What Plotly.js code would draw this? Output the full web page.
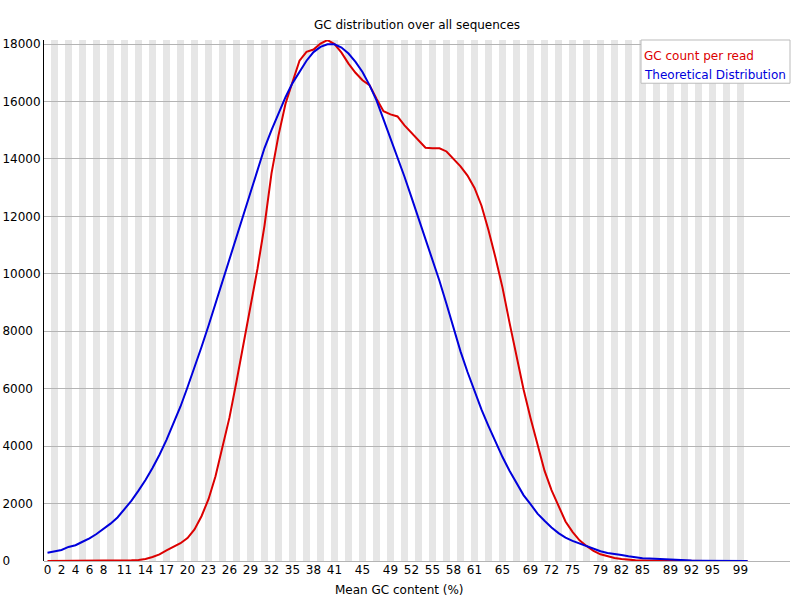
<!DOCTYPE html>
<html>
<head>
<meta charset="utf-8">
<script src="https://cdn.plot.ly/plotly-3.0.1.min.js"></script>
<style>
  body { margin: 0; background: #fff; }
  #chart { width: 800px; height: 600px; }
</style>
</head>
<body>
<div id="chart"></div>
<script>
// GC content bins (0..100 %)
var gcPercent = [0,1,2,3,4,5,6,7,8,9,10,11,12,13,14,15,16,17,18,19,20,
  21,22,23,24,25,26,27,28,29,30,31,32,33,34,35,36,37,38,39,40,
  41,42,43,44,45,46,47,48,49,50,51,52,53,54,55,56,57,58,59,60,
  61,62,63,64,65,66,67,68,69,70,71,72,73,74,75,76,77,78,79,80,
  81,82,83,84,85,86,87,88,89,90,91,92,93,94,95,96,97,98,99,100];

// GC count per read
var gcCount = [0,0,0,0,0,0,0,0,0,3,
  10,25,25,35,70,140,230,370,510,620,
  800,1100,1560,2150,2950,3950,5000,6250,7550,8850,
  10180,11680,13500,14820,15920,16680,17420,17730,17810,18020,
  18140,18000,17700,17320,17000,16740,16570,16100,15660,15550,
  15480,15170,14900,14640,14390,14370,14370,14260,14000,13740,
  13420,12990,12370,11520,10560,9520,8300,7150,5980,4980,
  4080,3145,2470,1920,1375,1015,720,525,350,233,
  163,105,70,35,23,20,15,12,10,8,
  5,4,3,3,2,2,1,1,1,0,0];

// theoretical distribution
var theoretical = [290,325,385,490,550,670,790,940,1107,1300,
  1515,1805,2100,2450,2820,3240,3700,4220,4780,5380,
  6050,6730,7450,8190,8960,9730,10490,11250,12010,12830,
  13630,14380,15000,15560,16150,16640,17050,17420,17720,17900,
  17990,17990,17880,17670,17380,17030,16570,16040,15380,14720,
  14070,13380,12660,11940,11230,10500,9750,8950,8080,7300,
  6580,5900,5270,4700,4150,3620,3145,2700,2295,1980,
  1650,1400,1165,970,815,700,605,510,420,340,
  280,256,210,165,120,100,85,70,55,40,
  30,22,17,12,9,7,5,4,3,2,1];

var xTicks = [0,2,4,6,8,11,14,17,20,23,26,29,32,35,38,41,45,49,52,55,58,61,65,69,72,75,79,82,85,89,92,95,99];
var yTicks = [0,2000,4000,6000,8000,10000,12000,14000,16000,18000];
var seriesNames = ['GC count per read', 'Theoretical Distribution'];

var font = 'DejaVu Sans, Verdana, sans-serif';

// grey stripes behind every other bin
var stripes = [];
gcPercent.forEach(function (g) {
  if (g % 2 === 1) {
    stripes.push({
      type: 'rect', layer: 'below', xref: 'x', yref: 'paper',
      x0: g - 0.5, x1: g + 0.5, y0: 0, y1: 1,
      fillcolor: '#e6e6e6', line: { width: 0 }
    });
  }
});
// legend box
stripes.push({
  type: 'rect', layer: 'above', xref: 'paper', yref: 'paper',
  x0: 0.8003, x1: 1.0, y0: 0.917, y1: 1.0,
  fillcolor: '#fff', line: { color: '#bbbbbb', width: 1 }
});

// y labels are left aligned in the original, pad with figure spaces
var yText = yTicks.map(function (v) {
  var s = String(v);
  while (s.length < 5) s = s + '\u2007';
  return s;
});

var traces = [
  {
    x: gcPercent, y: gcCount, type: 'scatter', mode: 'lines',
    name: seriesNames[0], line: { color: 'rgb(220,0,0)', width: 2 }
  },
  {
    x: gcPercent, y: theoretical, type: 'scatter', mode: 'lines',
    name: seriesNames[1], line: { color: 'rgb(0,0,220)', width: 2 }
  }
];

var layout = {
  width: 800, height: 600,
  margin: { l: 44, r: 10, t: 40, b: 39 },
  paper_bgcolor: '#fff', plot_bgcolor: '#fff',
  showlegend: false,
  font: { family: font, size: 12, color: '#000' },
  title: {
    text: 'GC distribution over all sequences',
    font: { family: font, size: 12, color: '#000' },
    x: 0.5, xref: 'paper', y: 0.958, yanchor: 'middle'
  },
  xaxis: {
    range: [-0.5, 106.07],
    tickvals: xTicks, ticktext: xTicks.map(String),
    showgrid: false, zeroline: false, showline: false, ticks: '',
    tickfont: { family: font, size: 12, color: '#000' }
  },
  yaxis: {
    range: [0, 18141],
    tickvals: yTicks, ticktext: yText,
    showgrid: true, gridcolor: 'rgb(180,180,180)', gridwidth: 1,
    zeroline: true, zerolinecolor: 'rgb(180,180,180)', zerolinewidth: 1,
    showline: true, linecolor: '#000', linewidth: 1, ticks: '',
    tickfont: { family: font, size: 12, color: '#000' }
  },
  shapes: stripes,
  annotations: [
    {
      text: 'Mean GC content (%)', xref: 'paper', yref: 'paper',
      x: 0.477, y: -0.056, xanchor: 'center', yanchor: 'middle',
      showarrow: false, font: { family: font, size: 12, color: '#000' }
    },
    {
      text: seriesNames[0], xref: 'paper', yref: 'paper',
      x: 0.802, y: 0.969, xanchor: 'left', yanchor: 'middle',
      showarrow: false, font: { family: font, size: 12, color: 'rgb(220,0,0)' }
    },
    {
      text: seriesNames[1], xref: 'paper', yref: 'paper',
      x: 0.802, y: 0.932, xanchor: 'left', yanchor: 'middle',
      showarrow: false, font: { family: font, size: 12, color: 'rgb(0,0,220)' }
    }
  ]
};

Plotly.newPlot('chart', traces, layout, { staticPlot: true });
</script>
</body>
</html>
